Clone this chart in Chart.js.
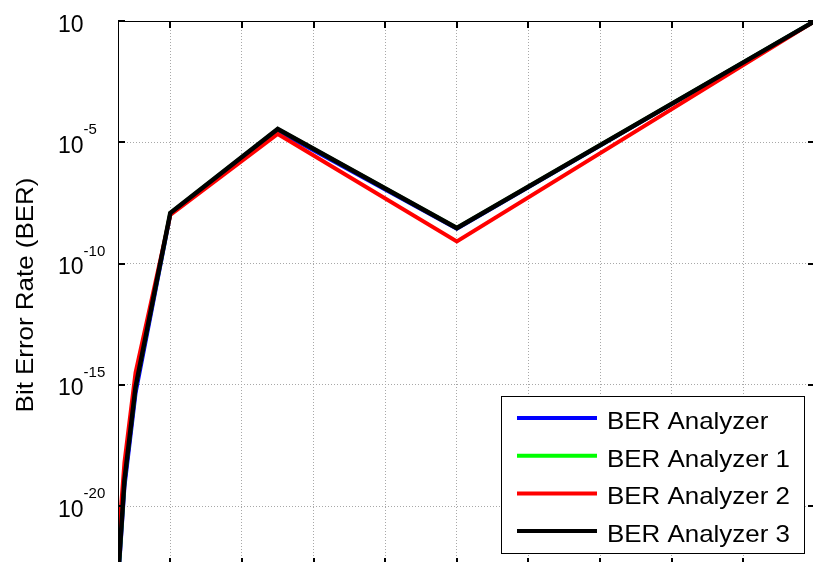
<!DOCTYPE html>
<html>
<head>
<meta charset="utf-8">
<script src="https://cdn.jsdelivr.net/npm/chart.js@4"></script>
<style>
  html, body { margin: 0; padding: 0; background: #fff; overflow: hidden; }
  #wrap { width: 813px; height: 562px; overflow: hidden; }
</style>
</head>
<body>
<div id="wrap"><canvas id="ber-chart" width="816" height="566"></canvas></div>
<script>
// x positions of the samples (axis has no visible labels)
const xValues = [0.27, 0.36, 0.515, 1, 2.5, 5, 10];
const berAnalyzer  = [6.3e-24, 6.3e-20, 4.5e-16, 1.1e-8, 3.0e-5, 2.75e-9, 1];
const berAnalyzer1 = [1e-23, 1.17e-19, 8.1e-16, 1.2e-8, 3.5e-5, 2.9e-9, 1];
const berAnalyzer2 = [2.0e-22, 6.3e-19, 3.2e-15, 1.0e-8, 2.2e-5, 8.1e-10, 1];
const berAnalyzer3 = [1e-23, 1.17e-19, 8.1e-16, 1.2e-8, 3.5e-5, 2.9e-9, 1];
const seriesNames = ["BER Analyzer", "BER Analyzer 1", "BER Analyzer 2", "BER Analyzer 3"];
const seriesColors = ["#0000ff", "#00ff00", "#ff0000", "#000000"];
const xTicks = [1, 2, 3, 4, 5, 6, 7, 8, 9, 10];
const yTicks = [1e-20, 1e-15, 1e-10, 1e-5, 1];
const yTickExp = ["-20", "-15", "-10", "-5", ""];
const yTitle = "Bit Error Rate (BER)";

const FONT = "'Liberation Sans', Arial, sans-serif";

function toPoints(vals) {
  let pts = [];
  for (let i = 0; i < vals.length; i++) {
    pts.push({ x: xValues[i], y: vals[i] });
  }
  return pts;
}

function stretchedText(ctx, text, x, y, sx) {
  ctx.save();
  ctx.translate(x, y);
  ctx.scale(sx, 1);
  ctx.fillText(text, 0, 0);
  ctx.restore();
}

const frame = {
  id: "frame",
  afterDraw(chart) {
    const ctx = chart.ctx;
    const a = chart.chartArea;
    const xs = chart.scales.x;
    const ys = chart.scales.y;
    ctx.save();
    // axes box
    ctx.strokeStyle = "#000";
    ctx.lineWidth = 1;
    ctx.strokeRect(a.left + 0.5, a.top + 0.5, a.right - a.left - 1, a.bottom - a.top - 1);
    // inward tick marks
    ctx.lineWidth = 2;
    ctx.beginPath();
    xTicks.forEach((v) => {
      const px = Math.round(xs.getPixelForValue(v));
      ctx.moveTo(px, a.top); ctx.lineTo(px, a.top + 7);
      ctx.moveTo(px, a.bottom); ctx.lineTo(px, a.bottom - 7);
    });
    yTicks.forEach((v) => {
      const py = Math.round(ys.getPixelForValue(v));
      ctx.moveTo(a.left, py); ctx.lineTo(a.left + 7, py);
      ctx.moveTo(a.right, py); ctx.lineTo(a.right - 7, py);
    });
    ctx.stroke();

    // y tick labels with superscript exponents
    ctx.fillStyle = "#000";
    ctx.textBaseline = "alphabetic";
    ctx.textAlign = "left";
    yTicks.forEach((v, i) => {
      const py = ys.getPixelForValue(v);
      ctx.font = "23px " + FONT;
      ctx.fillText("10", 58, py + 10.5);
      const w = ctx.measureText("10").width;
      if (yTickExp[i]) {
        ctx.font = "15px " + FONT;
        ctx.fillText(yTickExp[i], 58 + w, py - 8);
      }
    });

    // y axis title
    ctx.save();
    ctx.translate(33, 295);
    ctx.rotate(-Math.PI / 2);
    ctx.font = "24px " + FONT;
    ctx.textAlign = "center";
    stretchedText(ctx, yTitle, 0, 0, 1.08);
    ctx.restore();

    // legend
    const lx = 501, ly = 396, lw = 303, lh = 157;
    ctx.fillStyle = "#fff";
    ctx.fillRect(lx, ly, lw, lh);
    ctx.strokeStyle = "#000";
    ctx.lineWidth = 1;
    ctx.strokeRect(lx + 0.5, ly + 0.5, lw, lh);
    ctx.font = "24px " + FONT;
    ctx.textAlign = "left";
    for (let i = 0; i < seriesNames.length; i++) {
      const ry = 418 + i * 37.7;
      ctx.strokeStyle = seriesColors[i];
      ctx.lineWidth = 4;
      ctx.beginPath();
      ctx.moveTo(517, ry);
      ctx.lineTo(597, ry);
      ctx.stroke();
      ctx.fillStyle = "#000";
      stretchedText(ctx, seriesNames[i], 607, ry + 11, 1.08);
    }
    ctx.restore();
  },
};

const seriesData = [berAnalyzer, berAnalyzer1, berAnalyzer2, berAnalyzer3];
const drawOrder = [4, 3, 2, 1];
const widths = [4, 4, 4, 4.5];
let datasets = [];
for (let i = 0; i < seriesNames.length; i++) {
  datasets.push({
    label: seriesNames[i],
    data: toPoints(seriesData[i]),
    borderColor: seriesColors[i],
    backgroundColor: seriesColors[i],
    borderWidth: widths[i],
    pointRadius: 0,
    tension: 0,
    fill: false,
    order: drawOrder[i],
  });
}

const gridStyle = {
  color: "#a8a8a8",
  lineWidth: 1,
  drawTicks: false,
};

new Chart(document.getElementById("ber-chart").getContext("2d"), {
  type: "line",
  data: { datasets: datasets },
  options: {
    responsive: false,
    animation: false,
    devicePixelRatio: 1,
    layout: { padding: { left: 0, top: 21, right: 1, bottom: 1 } },
    plugins: { legend: { display: false }, tooltip: { enabled: false } },
    scales: {
      x: {
        type: "linear",
        min: 0.27,
        max: 10,
        grid: gridStyle,
        border: { display: false, dash: [1, 2] },
        ticks: { display: false },
        afterBuildTicks: (scale) => {
          scale.ticks = xTicks.map((v) => ({ value: v }));
        },
        afterFit: (scale) => {
          scale.height = 0;
        },
      },
      y: {
        type: "logarithmic",
        min: 3.7e-23,
        max: 1,
        grid: gridStyle,
        border: { display: false, dash: [1, 2] },
        ticks: { display: false },
        afterBuildTicks: (scale) => {
          scale.ticks = yTicks.map((v) => ({ value: v }));
        },
        afterFit: (scale) => {
          scale.width = 118;
        },
      },
    },
  },
  plugins: [frame],
});
</script>
</body>
</html>
